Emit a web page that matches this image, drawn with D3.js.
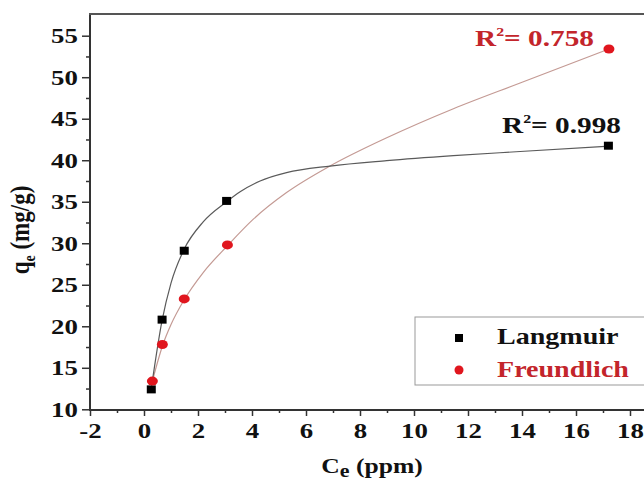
<!DOCTYPE html>
<html>
<head>
<meta charset="utf-8">
<script src="https://cdn.jsdelivr.net/npm/d3@7"></script>
<style>
  body { margin: 0; background: #fff; }
  text { font-family: "Liberation Serif", "Times New Roman", serif; font-weight: bold; }
</style>
</head>
<body>
<div class="board"></div>
<script>
// isotherm data
var langmuirCe = [0.27, 0.67, 1.49, 3.06, 17.2];
var langmuirQe = [12.4, 20.8, 29.1, 35.1, 41.75];
var freundCe = [0.31, 0.68, 1.49, 3.09, 17.22];
var freundQe = [13.4, 17.8, 23.3, 29.8, 53.4];

// fitted curves
var langFitCe = [0.27, 0.67, 1.0, 1.49, 2.2, 3.06, 3.56, 4.3, 5.28, 6.89, 8.99, 11.46, 13.93, 17.2];
var langFitQe = [12.5, 20.7, 25.2, 29.3, 32.6, 35.0, 36.2, 37.5, 38.5, 39.3, 39.95, 40.55, 41.05, 41.7];
var freundFitCe = [0.31, 0.68, 1.0, 1.49, 2.2, 3.09, 4.05, 5.28, 6.89, 8.99, 11.46, 13.93, 17.22];
var freundFitQe = [13.4, 17.6, 20.2, 23.2, 26.5, 29.7, 32.9, 36.1, 39.3, 42.7, 46.2, 49.3, 53.4];

var xMajor = [-2, 0, 2, 4, 6, 8, 10, 12, 14, 16, 18];
var xMinor = [-1, 1, 3, 5, 7, 9, 11, 13, 15, 17];
var yMajor = [10, 15, 20, 25, 30, 35, 40, 45, 50, 55];
var yMinor = [12.5, 17.5, 22.5, 27.5, 32.5, 37.5, 42.5, 47.5, 52.5];

var r2Labels = ['0.758', '0.998'];
var seriesNames = ['Langmuir', 'Freundlich'];

var width = 644;
var height = 482;
var stretch = 1.22; // the original picture is squashed wider than it is tall
var red = '#e0161e';
var redText = '#c3252b';

var svg = d3.select('.board').append('svg')
  .attr('width', width)
  .attr('height', height);

var x = d3.scaleLinear().domain([-2, 18]).range([90, 630]);
var y = d3.scaleLinear().domain([10, 55]).range([409.3, 35.7]);

var zip = function(a, b) {
  return a.map(function(v, i) { return [v, b[i]]; });
};

// frame: left axis, bottom axis, top border
svg.append('line').attr('x1', 90).attr('x2', 90).attr('y1', 14).attr('y2', 410)
  .attr('stroke', '#333').attr('stroke-width', 2);
svg.append('line').attr('x1', 89).attr('x2', 650).attr('y1', 410).attr('y2', 410)
  .attr('stroke', '#333').attr('stroke-width', 2);
svg.append('line').attr('x1', 89).attr('x2', 650).attr('y1', 14).attr('y2', 14)
  .attr('stroke', '#555').attr('stroke-width', 2);

// x axis ticks
svg.append('g').attr('transform', 'translate(0,410)')
  .call(d3.axisBottom(x).tickValues(xMajor).tickSize(6).tickPadding(6.5)
    .tickFormat(function(d) { return String(d); }));
svg.append('g').attr('transform', 'translate(0,410)')
  .call(d3.axisBottom(x).tickValues(xMinor).tickSize(3).tickFormat(''));

// y axis ticks
svg.append('g').attr('transform', 'translate(90,0)')
  .call(d3.axisLeft(y).tickValues(yMajor).tickSize(8).tickPadding(2));
svg.append('g').attr('transform', 'translate(90,0)')
  .call(d3.axisLeft(y).tickValues(yMinor).tickSize(4).tickFormat(''));

svg.selectAll('.domain').remove();
svg.selectAll('.tick line').attr('stroke', '#333').attr('stroke-width', 1.5);
svg.selectAll('.tick text')
  .attr('font-size', 22)
  .attr('fill', '#111')
  .attr('transform', 'scale(' + stretch + ',1)');

// axis titles
var xTitle = svg.append('text')
  .attr('transform', 'translate(372,473) scale(' + stretch + ',1)')
  .attr('text-anchor', 'middle')
  .attr('font-size', 21)
  .attr('fill', '#111');
xTitle.append('tspan').text('C');
xTitle.append('tspan').attr('dy', 4).attr('font-size', 18).text('e');
xTitle.append('tspan').attr('dy', -4).text(' (ppm)');

var yTitle = svg.append('text')
  .attr('transform', 'translate(29,230) rotate(-90) scale(1,' + stretch + ')')
  .attr('text-anchor', 'middle')
  .attr('font-size', 23)
  .attr('fill', '#111');
yTitle.append('tspan').text('q');
yTitle.append('tspan').attr('dy', 5).attr('font-size', 14).text('e');
yTitle.append('tspan').attr('dy', -5).text(' (mg/g)');

// fitted curves
var line = d3.line()
  .x(function(d) { return x(d[0]); })
  .y(function(d) { return y(d[1]); })
  .curve(d3.curveMonotoneX);

svg.append('path').datum(zip(freundFitCe, freundFitQe))
  .attr('d', line).attr('fill', 'none').attr('stroke', '#c49a94').attr('stroke-width', 1.2);
svg.append('path').datum(zip(langFitCe, langFitQe))
  .attr('d', line).attr('fill', 'none').attr('stroke', '#5a5a5a').attr('stroke-width', 1.2);

// points
svg.selectAll('rect.lang').data(zip(langmuirCe, langmuirQe))
  .enter().append('rect')
  .attr('class', 'lang')
  .attr('x', function(d) { return x(d[0]) - 4.5; })
  .attr('y', function(d) { return y(d[1]) - 4; })
  .attr('width', 9).attr('height', 8)
  .attr('fill', '#000');

svg.selectAll('ellipse.freund').data(zip(freundCe, freundQe))
  .enter().append('ellipse')
  .attr('class', 'freund')
  .attr('cx', function(d) { return x(d[0]); })
  .attr('cy', function(d) { return y(d[1]); })
  .attr('rx', 5.5).attr('ry', 4.5)
  .attr('fill', red);

// R^2 labels
var r2 = function(px, py, value, color) {
  var t = svg.append('text')
    .attr('transform', 'translate(' + px + ',' + py + ') scale(' + stretch + ',1)')
    .attr('font-size', 24)
    .attr('fill', color);
  t.append('tspan').text('R');
  t.append('tspan').attr('dy', -10).attr('font-size', 13).text('2');
  t.append('tspan').attr('dy', 10).text('= ' + value);
};
r2(475, 46, r2Labels[0], redText);
r2(502, 133, r2Labels[1], '#111');

// legend
svg.append('rect').attr('x', 415).attr('y', 317).attr('width', 250).attr('height', 68)
  .attr('fill', '#fff').attr('stroke', '#999').attr('stroke-width', 1);
svg.append('rect').attr('x', 455).attr('y', 334).attr('width', 8).attr('height', 8).attr('fill', '#000');
svg.append('circle').attr('cx', 459).attr('cy', 370).attr('r', 4.5).attr('fill', red);
svg.append('text')
  .attr('transform', 'translate(497,344) scale(' + stretch + ',1)')
  .attr('font-size', 23).attr('fill', '#111').text(seriesNames[0]);
svg.append('text')
  .attr('transform', 'translate(497,377) scale(' + stretch + ',1)')
  .attr('font-size', 23).attr('fill', redText).text(seriesNames[1]);
</script>
</body>
</html>
